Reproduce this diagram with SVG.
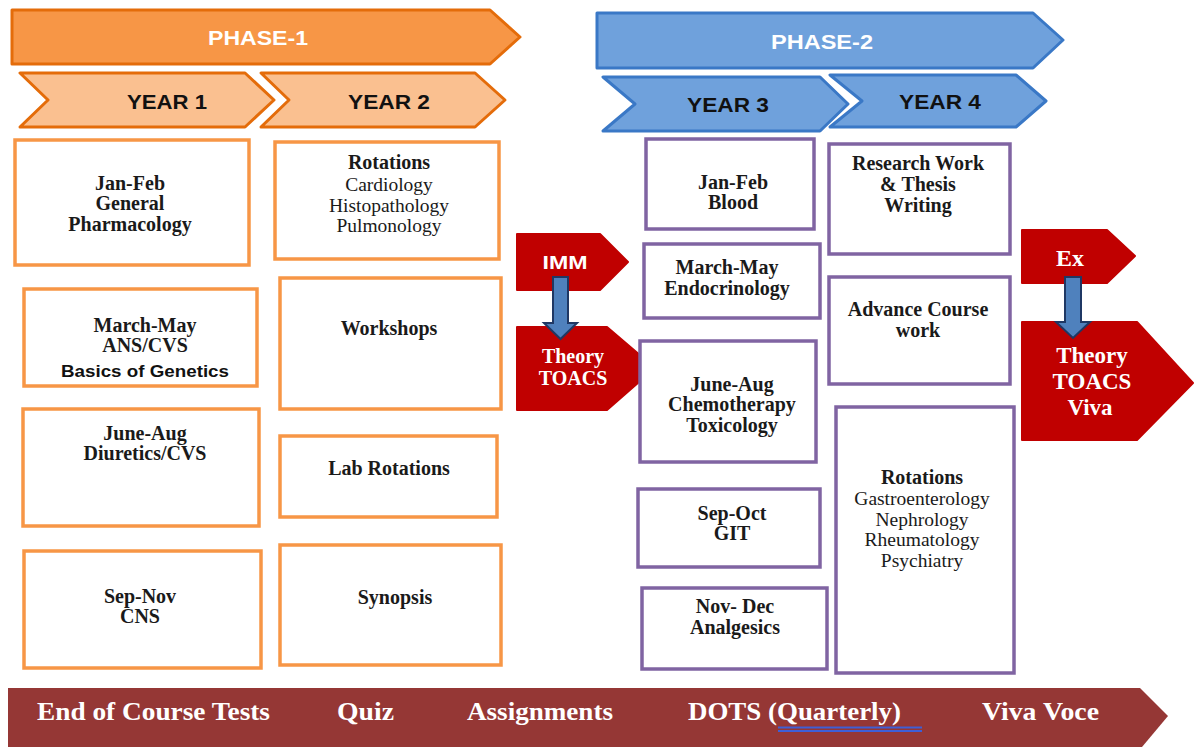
<svg xmlns="http://www.w3.org/2000/svg" width="1194" height="747" viewBox="0 0 1194 747">
<style>
.ph1{fill:#F79646;stroke:#E46C0A;stroke-width:3;stroke-linejoin:round}
.yr1{fill:#FAC090;stroke:#E46C0A;stroke-width:3;stroke-linejoin:round}
.ph2{fill:#6FA1DC;stroke:#3A78C6;stroke-width:3;stroke-linejoin:round}
.ob{fill:#fff;stroke:#F79646;stroke-width:3.5}
.pb{fill:#fff;stroke:#8064A2;stroke-width:3.5}
.red{fill:#C00000;stroke:#C00000;stroke-width:2;stroke-linejoin:round}
.bar{fill:#953735}
.dn{fill:#4F81BD;stroke:#1F3864;stroke-width:2;stroke-linejoin:miter}
.hw{font-family:"Liberation Sans",Arial,sans-serif;font-weight:bold;font-size:21px;fill:#fff;text-anchor:middle}
.hy{font-family:"Liberation Sans",Arial,sans-serif;font-weight:bold;font-size:21px;fill:#111;text-anchor:middle}
.b{font-family:"Liberation Serif","Times New Roman",serif;font-weight:bold;font-size:20px;fill:#1a1a1a;text-anchor:middle}
.r{font-family:"Liberation Serif","Times New Roman",serif;font-size:19.5px;fill:#1a1a1a;text-anchor:middle}
.sb{font-family:"Liberation Sans",Arial,sans-serif;font-weight:bold;font-size:17px;fill:#111;text-anchor:middle}
.wb{font-family:"Liberation Serif","Times New Roman",serif;font-weight:bold;fill:#fff;text-anchor:middle}
.ws{font-family:"Liberation Sans",Arial,sans-serif;font-weight:bold;font-size:18px;fill:#fff;text-anchor:middle}
.bt{font-family:"Liberation Serif","Times New Roman",serif;font-weight:bold;font-size:26px;fill:#fff}
</style>

<g id="phase1">
<polygon class="ph1" points="12,10 490,10 520,37 490,64 12,64"/>
<text class="hw" x="258" y="45" textLength="100" lengthAdjust="spacingAndGlyphs">PHASE-1</text>
</g>
<g id="year1">
<polygon class="yr1" points="20,73 245,73 274,100 245,127 20,127 48,100"/>
<text class="hy" x="167" y="109" textLength="80" lengthAdjust="spacingAndGlyphs">YEAR 1</text>
</g>
<g id="year2">
<polygon class="yr1" points="261,73 475,73 505,100 475,127 261,127 289,100"/>
<text class="hy" x="389" y="109" textLength="82" lengthAdjust="spacingAndGlyphs">YEAR 2</text>
</g>
<g id="phase2">
<polygon class="ph2" points="597,13 1033,13 1063,40 1033,68 597,68"/>
<text class="hw" x="822" y="49" textLength="102" lengthAdjust="spacingAndGlyphs">PHASE-2</text>
</g>
<g id="year3">
<polygon class="ph2" points="603,77 820,77 848,104 820,131 603,131 635,104"/>
<text class="hy" x="728" y="112" textLength="82" lengthAdjust="spacingAndGlyphs">YEAR 3</text>
</g>
<g id="year4">
<polygon class="ph2" points="830,75 1016,75 1046,101 1016,127 830,127 862,101"/>
<text class="hy" x="940" y="109" textLength="82" lengthAdjust="spacingAndGlyphs">YEAR 4</text>
</g>

<g id="y1-janfeb">
<rect class="ob" x="15" y="140" width="234" height="125"/>
<text class="b" x="130" y="190">Jan-Feb</text>
<text class="b" x="130" y="210">General</text>
<text class="b" x="130" y="231">Pharmacology</text>
</g>
<g id="y1-marmay">
<rect class="ob" x="24" y="289" width="233" height="97"/>
<text class="b" x="145" y="332">March-May</text>
<text class="b" x="145" y="352">ANS/CVS</text>
<text class="sb" x="145" y="377" textLength="168" lengthAdjust="spacingAndGlyphs">Basics of Genetics</text>
</g>
<g id="y1-juneaug">
<rect class="ob" x="23" y="409" width="236" height="117"/>
<text class="b" x="145" y="440">June-Aug</text>
<text class="b" x="145" y="460">Diuretics/CVS</text>
</g>
<g id="y1-sepnov">
<rect class="ob" x="24" y="551" width="237" height="117"/>
<text class="b" x="140" y="603">Sep-Nov</text>
<text class="b" x="140" y="623">CNS</text>
</g>

<g id="y2-rotations">
<rect class="ob" x="275" y="142" width="224" height="117"/>
<text class="b" x="389" y="169">Rotations</text>
<text class="r" x="389" y="191">Cardiology</text>
<text class="r" x="389" y="212">Histopathology</text>
<text class="r" x="389" y="232">Pulmonology</text>
</g>
<g id="y2-workshops">
<rect class="ob" x="280" y="278" width="221" height="131"/>
<text class="b" x="389" y="335">Workshops</text>
</g>
<g id="y2-lab">
<rect class="ob" x="280" y="436" width="217" height="81"/>
<text class="b" x="389" y="475">Lab Rotations</text>
</g>
<g id="y2-synopsis">
<rect class="ob" x="280" y="545" width="221" height="120"/>
<text class="b" x="395" y="604">Synopsis</text>
</g>

<g id="imm">
<polygon class="red" points="517,234 600,234 628,262 600,290 517,290"/>
<text class="ws" x="565" y="269" textLength="45" lengthAdjust="spacingAndGlyphs">IMM</text>
</g>
<g id="theory1">
<polygon class="red" points="517,327 607,327 655,368 607,410 517,410"/>
<text class="wb" font-size="20" x="573" y="363">Theory</text>
<text class="wb" font-size="20" x="573" y="385">TOACS</text>
</g>

<g id="y3-janfeb">
<rect class="pb" x="646" y="139" width="168" height="90"/>
<text class="b" x="733" y="189">Jan-Feb</text>
<text class="b" x="733" y="209">Blood</text>
</g>
<g id="y3-marmay">
<rect class="pb" x="644" y="244" width="176" height="74"/>
<text class="b" x="727" y="274">March-May</text>
<text class="b" x="727" y="295">Endocrinology</text>
</g>
<g id="y3-juneaug">
<rect class="pb" x="640" y="341" width="176" height="121"/>
<text class="b" x="732" y="391">June-Aug</text>
<text class="b" x="732" y="411">Chemotherapy</text>
<text class="b" x="732" y="432">Toxicology</text>
</g>
<g id="y3-sepoct">
<rect class="pb" x="638" y="489" width="182" height="78"/>
<text class="b" x="732" y="520">Sep-Oct</text>
<text class="b" x="732" y="540">GIT</text>
</g>
<g id="y3-novdec">
<rect class="pb" x="642" y="588" width="185" height="81"/>
<text class="b" x="735" y="613">Nov- Dec</text>
<text class="b" x="735" y="634">Analgesics</text>
</g>

<g id="y4-research">
<rect class="pb" x="829" y="144" width="181" height="110"/>
<text class="b" x="918" y="170">Research Work</text>
<text class="b" x="918" y="191">&amp; Thesis</text>
<text class="b" x="918" y="212">Writing</text>
</g>
<g id="y4-advance">
<rect class="pb" x="829" y="277" width="181" height="107"/>
<text class="b" x="918" y="316">Advance Course</text>
<text class="b" x="918" y="337">work</text>
</g>
<g id="y4-rotations">
<rect class="pb" x="836" y="407" width="178" height="266"/>
<text class="b" x="922" y="484">Rotations</text>
<text class="r" x="922" y="505">Gastroenterology</text>
<text class="r" x="922" y="526">Nephrology</text>
<text class="r" x="922" y="546">Rheumatology</text>
<text class="r" x="922" y="567">Psychiatry</text>
</g>

<g id="ex">
<polygon class="red" points="1022,230 1107,230 1135,256 1107,283 1022,283"/>
<text class="wb" font-size="24" x="1070" y="266">Ex</text>
</g>
<g id="theory2">
<polygon class="red" points="1022,322 1137,322 1193,383 1137,440 1022,440"/>
<text class="wb" font-size="23" x="1092" y="363">Theory</text>
<text class="wb" font-size="23" x="1092" y="389">TOACS</text>
<text class="wb" font-size="23" x="1090" y="415">Viva</text>
</g>

<g id="connectors">
<polygon class="dn" points="553,277 568,277 568,323 577,323 560.5,339 544,323 553,323"/>
<polygon class="dn" points="1065,277 1081,277 1081,322 1090,322 1073,338 1056,322 1065,322"/>
</g>

<g id="assessment-bar">
<polygon class="bar" points="8,688 1140,688 1168,716 1142,747 8,747"/>
<text class="bt" x="37" y="720" textLength="233" lengthAdjust="spacingAndGlyphs">End of Course Tests</text>
<text class="bt" x="337" y="720" textLength="57" lengthAdjust="spacingAndGlyphs">Quiz</text>
<text class="bt" x="467" y="720" textLength="146" lengthAdjust="spacingAndGlyphs">Assignments</text>
<text class="bt" x="688" y="720" textLength="213" lengthAdjust="spacingAndGlyphs">DOTS (Quarterly)</text>
<text class="bt" x="982" y="720" textLength="117" lengthAdjust="spacingAndGlyphs">Viva Voce</text>
<line x1="778" y1="727.5" x2="922" y2="727.5" stroke="#3E5FD6" stroke-width="1.8"/>
<line x1="778" y1="731" x2="922" y2="731" stroke="#3E5FD6" stroke-width="1.8"/>
</g>
</svg>
